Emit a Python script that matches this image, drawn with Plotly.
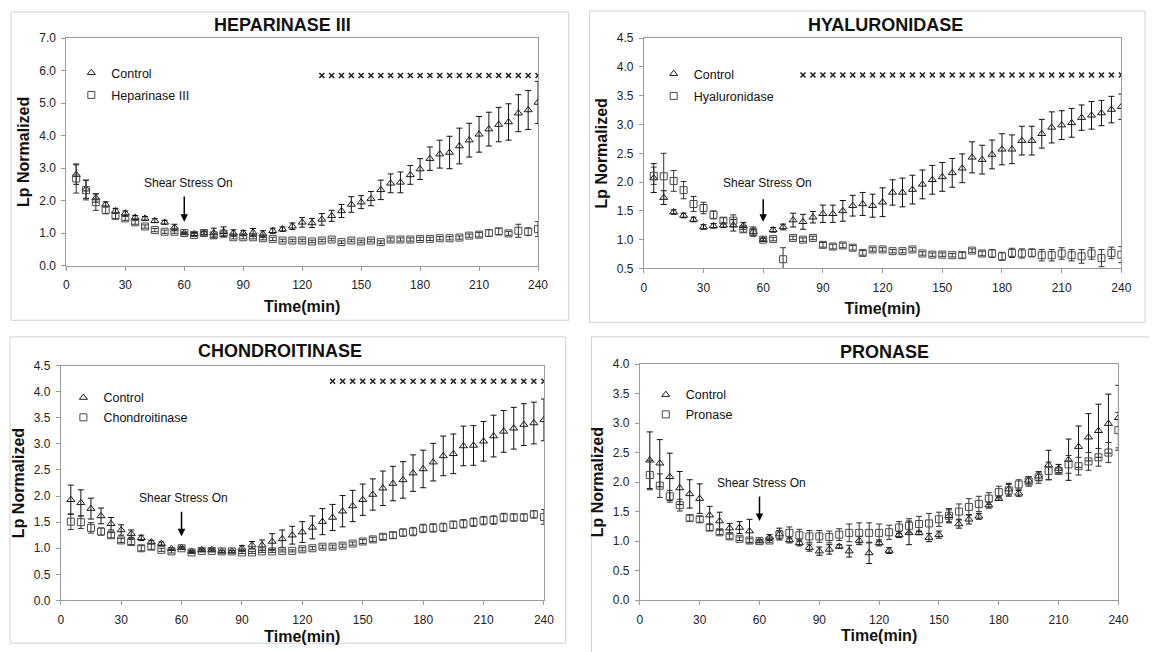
import plotly.graph_objects as go

# ---------------- data ----------------
TIME = [5, 10, 15, 20, 25, 30, 35, 40, 45, 50, 55, 60, 65, 70, 75, 80, 85, 90, 95, 100,
        105, 110, 115, 120, 125, 130, 135, 140, 145, 150, 155, 160, 165, 170, 175, 180,
        185, 190, 195, 200, 205, 210, 215, 220, 225, 230, 235, 240]

X_TICKS = [0, 30, 60, 90, 120, 150, 180, 210, 240]

# Heparinase III panel
HEP_CTRL = [2.80, 2.35, 2.08, 1.88, 1.68, 1.61, 1.48, 1.45, 1.38, 1.33,
            1.17, 1.00, 0.97, 1.00, 1.00, 1.04, 1.00, 1.00, 1.02, 0.97,
            1.07, 1.12, 1.21, 1.33, 1.31, 1.42, 1.53, 1.68, 1.88, 1.95,
            2.06, 2.33, 2.53, 2.56, 2.79, 2.97, 3.29, 3.43, 3.48, 3.68,
            3.86, 4.04, 4.20, 4.34, 4.42, 4.69, 4.79, 5.02]
HEP_CTRL_ERR = [0.30, 0.28, 0.13, 0.08, 0.08, 0.07, 0.06, 0.06, 0.06, 0.06,
                0.10, 0.03, 0.05, 0.06, 0.15, 0.15, 0.10, 0.08, 0.12, 0.10,
                0.08, 0.07, 0.10, 0.15, 0.14, 0.18, 0.17, 0.20, 0.24, 0.20,
                0.22, 0.30, 0.29, 0.32, 0.29, 0.32, 0.36, 0.43, 0.50, 0.55,
                0.52, 0.55, 0.52, 0.53, 0.56, 0.57, 0.60, 0.65]
HEP_TRT = [2.68, 2.32, 1.95, 1.71, 1.53, 1.45, 1.33, 1.20, 1.09, 1.04,
           1.04, 1.00, 0.94, 1.00, 0.93, 0.98, 0.87, 0.87, 0.87, 0.84,
           0.82, 0.77, 0.77, 0.77, 0.74, 0.77, 0.80, 0.72, 0.77, 0.74,
           0.77, 0.72, 0.80, 0.80, 0.80, 0.82, 0.82, 0.84, 0.84, 0.86,
           0.92, 0.95, 1.00, 1.05, 0.99, 1.07, 1.04, 1.12]
HEP_TRT_ERR = [0.45, 0.30, 0.25, 0.12, 0.08, 0.06, 0.06, 0.05, 0.05, 0.05,
               0.05, 0.02, 0.05, 0.04, 0.05, 0.05, 0.05, 0.05, 0.05, 0.05,
               0.05, 0.04, 0.04, 0.04, 0.04, 0.04, 0.04, 0.04, 0.04, 0.04,
               0.04, 0.04, 0.05, 0.05, 0.05, 0.05, 0.05, 0.05, 0.05, 0.05,
               0.05, 0.07, 0.10, 0.10, 0.06, 0.20, 0.12, 0.23]
HEP_SIG_T = [130, 135, 140, 145, 150, 155, 160, 165, 170, 175, 180, 185,
             190, 195, 200, 205, 210, 215, 220, 225, 230, 235, 240]
HEP_SIG_LEVEL = 5.85

# Hyaluronidase panel
HYA_CTRL = [2.07, 1.73, 1.48, 1.42, 1.35, 1.22, 1.24, 1.25, 1.25, 1.24,
            1.14, 1.00, 1.17, 1.22, 1.34, 1.31, 1.39, 1.45, 1.45, 1.50,
            1.59, 1.62, 1.59, 1.65, 1.82, 1.82, 1.87, 1.96, 2.04, 2.09,
            2.16, 2.24, 2.43, 2.39, 2.48, 2.57, 2.57, 2.72, 2.72, 2.84,
            2.95, 2.99, 3.03, 3.12, 3.16, 3.20, 3.26, 3.31]
HYA_CTRL_ERR = [0.25, 0.12, 0.04, 0.04, 0.04, 0.04, 0.04, 0.04, 0.10, 0.06,
                0.08, 0.03, 0.04, 0.05, 0.12, 0.13, 0.10, 0.15, 0.15, 0.18,
                0.18, 0.20, 0.20, 0.25, 0.22, 0.25, 0.25, 0.25, 0.25, 0.25,
                0.25, 0.25, 0.27, 0.25, 0.25, 0.27, 0.25, 0.25, 0.25, 0.25,
                0.27, 0.25, 0.25, 0.22, 0.24, 0.22, 0.23, 0.22]
HYA_TRT = [2.11, 2.10, 2.02, 1.86, 1.62, 1.55, 1.43, 1.33, 1.33, 1.18,
           1.13, 1.00, 1.01, 0.66, 1.03, 1.00, 1.03, 0.91, 0.88, 0.90,
           0.86, 0.77, 0.83, 0.83, 0.80, 0.80, 0.83, 0.76, 0.74, 0.74,
           0.73, 0.73, 0.81, 0.76, 0.76, 0.71, 0.77, 0.76, 0.77, 0.73,
           0.73, 0.76, 0.73, 0.71, 0.76, 0.68, 0.77, 0.74]
HYA_TRT_ERR = [0.15, 0.40, 0.18, 0.15, 0.13, 0.10, 0.07, 0.05, 0.10, 0.05,
               0.05, 0.02, 0.03, 0.20, 0.03, 0.03, 0.03, 0.04, 0.04, 0.04,
               0.04, 0.04, 0.03, 0.03, 0.03, 0.03, 0.03, 0.03, 0.03, 0.03,
               0.03, 0.05, 0.03, 0.04, 0.07, 0.07, 0.08, 0.08, 0.07, 0.10,
               0.10, 0.10, 0.10, 0.12, 0.10, 0.15, 0.10, 0.14]
HYA_SIG_T = [80, 85, 90, 95, 100, 105, 110, 115, 120, 125, 130, 135, 140,
             145, 150, 155, 160, 165, 170, 175, 180, 185, 190, 195, 200, 205,
             210, 215, 220, 225, 230, 235, 240]
HYA_SIG_LEVEL = 3.86

# Chondroitinase panel
CHO_CTRL = [1.93, 1.87, 1.76, 1.62, 1.47, 1.35, 1.28, 1.20, 1.12, 1.09,
            0.99, 1.01, 0.94, 0.97, 0.97, 0.94, 0.94, 1.00, 1.06, 1.06,
            1.13, 1.18, 1.25, 1.31, 1.40, 1.51, 1.59, 1.71, 1.81, 1.93,
            2.03, 2.15, 2.24, 2.31, 2.44, 2.52, 2.65, 2.77, 2.81, 2.96,
            2.97, 3.05, 3.15, 3.24, 3.30, 3.37, 3.40, 3.46]
CHO_CTRL_ERR = [0.28, 0.25, 0.20, 0.15, 0.12, 0.10, 0.07, 0.05, 0.03, 0.03,
                0.02, 0.02, 0.02, 0.02, 0.02, 0.02, 0.02, 0.05, 0.07, 0.10,
                0.15, 0.17, 0.17, 0.20, 0.22, 0.25, 0.25, 0.30, 0.30, 0.30,
                0.30, 0.33, 0.33, 0.35, 0.35, 0.36, 0.36, 0.38, 0.38, 0.38,
                0.38, 0.38, 0.40, 0.40, 0.40, 0.40, 0.40, 0.40]
CHO_TRT = [1.51, 1.50, 1.39, 1.32, 1.25, 1.15, 1.12, 1.00, 1.03, 0.97,
           0.94, 1.00, 0.92, 0.95, 0.95, 0.94, 0.94, 0.92, 0.92, 0.94,
           0.94, 0.95, 0.95, 0.98, 1.00, 1.03, 1.03, 1.05, 1.09, 1.13,
           1.17, 1.22, 1.25, 1.30, 1.32, 1.38, 1.39, 1.40, 1.45, 1.47,
           1.50, 1.53, 1.54, 1.59, 1.59, 1.59, 1.65, 1.60]
CHO_TRT_ERR = [0.15, 0.12, 0.10, 0.07, 0.05, 0.04, 0.05, 0.05, 0.05, 0.03,
               0.03, 0.02, 0.02, 0.02, 0.02, 0.02, 0.02, 0.02, 0.02, 0.02,
               0.02, 0.02, 0.02, 0.03, 0.03, 0.03, 0.03, 0.03, 0.03, 0.04,
               0.04, 0.05, 0.06, 0.07, 0.08, 0.08, 0.08, 0.08, 0.07, 0.08,
               0.08, 0.08, 0.08, 0.08, 0.07, 0.07, 0.07, 0.14]
CHO_SIG_T = [135, 140, 145, 150, 155, 160, 165, 170, 175, 180, 185, 190,
             195, 200, 205, 210, 215, 220, 225, 230, 235, 240]
CHO_SIG_LEVEL = 4.2

# Pronase panel
PRO_CTRL = [2.37, 2.32, 2.09, 1.90, 1.80, 1.72, 1.44, 1.34, 1.22, 1.23,
            1.17, 1.00, 1.06, 1.12, 1.02, 0.97, 0.89, 0.83, 0.86, 0.91,
            0.83, 1.01, 0.80, 0.97, 0.84, 1.11, 1.14, 1.14, 1.06, 1.11,
            1.43, 1.29, 1.37, 1.42, 1.61, 1.72, 1.88, 1.81, 2.03, 2.10,
            2.29, 2.23, 2.38, 2.60, 2.76, 2.87, 2.99, 3.09]
PRO_CTRL_ERR = [0.48, 0.40, 0.40, 0.28, 0.24, 0.25, 0.15, 0.15, 0.08, 0.10,
                0.20, 0.02, 0.05, 0.10, 0.05, 0.05, 0.06, 0.07, 0.08, 0.03,
                0.10, 0.07, 0.18, 0.05, 0.05, 0.05, 0.20, 0.03, 0.07, 0.06,
                0.12, 0.07, 0.08, 0.05, 0.05, 0.03, 0.10, 0.05, 0.06, 0.07,
                0.25, 0.07, 0.35, 0.35, 0.40, 0.45, 0.50, 0.55]
PRO_TRT = [2.12, 1.94, 1.76, 1.61, 1.39, 1.37, 1.23, 1.15, 1.08, 1.04,
           1.01, 1.00, 1.01, 1.11, 1.14, 1.10, 1.08, 1.08, 1.07, 1.11,
           1.14, 1.14, 1.14, 1.14, 1.15, 1.23, 1.26, 1.29, 1.30, 1.37,
           1.43, 1.50, 1.58, 1.63, 1.72, 1.83, 1.86, 1.96, 2.01, 2.08,
           2.19, 2.19, 2.30, 2.27, 2.35, 2.42, 2.50, 2.88]
PRO_TRT_ERR = [0.25, 0.20, 0.10, 0.10, 0.05, 0.05, 0.05, 0.04, 0.04, 0.03,
               0.03, 0.02, 0.03, 0.07, 0.10, 0.10, 0.10, 0.10, 0.10, 0.10,
               0.15, 0.17, 0.17, 0.15, 0.12, 0.10, 0.12, 0.13, 0.17, 0.12,
               0.10, 0.13, 0.14, 0.13, 0.10, 0.10, 0.10, 0.08, 0.08, 0.10,
               0.15, 0.05, 0.15, 0.15, 0.15, 0.15, 0.17, 0.30]

# ---------------- layout helpers ----------------
W, H = 1157, 652
OFF = 8  # the page body margin that offsets the figure in the browser window
FONT = "Liberation Sans, Arial, Helvetica, sans-serif"


def px_x(p):
    return (p - OFF) / W


def px_y(p):
    return 1 - (p - OFF) / H


panels = [
    dict(title="HEPARINASE III", trt_name="Heparinase III",
         ctrl=HEP_CTRL, ctrl_err=HEP_CTRL_ERR, trt=HEP_TRT, trt_err=HEP_TRT_ERR,
         sig_t=HEP_SIG_T, sig_level=HEP_SIG_LEVEL,
         yrange=[0, 7], dtick=1.0, plot=(64, 541, 31.7, 264.0),
         box=(8, 572, 5, 320), title_pos=(283, 18),
         shear=(62, 2.53, 2.17, 1.35), legend=(69, 52, 3),
         xstand=9, ystand=5),
    dict(title="HYALURONIDASE", trt_name="Hyaluronidase",
         ctrl=HYA_CTRL, ctrl_err=HYA_CTRL_ERR, trt=HYA_TRT, trt_err=HYA_TRT_ERR,
         sig_t=HYA_SIG_T, sig_level=HYA_SIG_LEVEL,
         yrange=[0.5, 4.5], dtick=0.5, plot=(648, 1131, 31.7, 267.0),
         box=(593, 1155, 4, 322), title_pos=(892, 18),
         shear=(62, 1.99, 1.73, 1.31), legend=(658, 53, 3),
         xstand=8, ystand=5),
    dict(title="CHONDROITINASE", trt_name="Chondroitinase",
         ctrl=CHO_CTRL, ctrl_err=CHO_CTRL_ERR, trt=CHO_TRT, trt_err=CHO_TRT_ERR,
         sig_t=CHO_SIG_T, sig_level=CHO_SIG_LEVEL,
         yrange=[0, 4.5], dtick=0.5, plot=(58.3, 547, 366.3, 606.3),
         box=(7, 569, 337, 650), title_pos=(280, 351),
         shear=(61, 1.96, 1.73, 1.23), legend=(61, 384, 0.5),
         xstand=4, ystand=5),
    dict(title="PRONASE", trt_name="Pronase",
         ctrl=PRO_CTRL, ctrl_err=PRO_CTRL_ERR, trt=PRO_TRT, trt_err=PRO_TRT_ERR,
         sig_t=[], sig_level=None,
         yrange=[0, 4.0], dtick=0.5, plot=(644, 1128, 364.7, 606.0),
         box=(595, 1170, 337, 670), title_pos=(891, 352),
         shear=(61, 1.98, 1.78, 1.34), legend=(650, 381, 0.5),
         xstand=4, ystand=5),
]

fig = go.Figure()
annotations = []
shapes = []
layout_extra = {}

for i, p in enumerate(panels, start=1):
    xa = "x" if i == 1 else f"x{i}"
    ya = "y" if i == 1 else f"y{i}"
    leg = "legend" if i == 1 else f"legend{i}"

    fig.add_trace(go.Scatter(
        x=TIME, y=p["ctrl"], mode="markers", name="Control",
        xaxis=xa, yaxis=ya, legend=leg, legendgroup=f"c{i}",
        marker=dict(symbol="triangle-up-open", size=7, color="#1a1a1a",
                    line=dict(width=1, color="#1a1a1a")),
        error_y=dict(type="data", array=p["ctrl_err"], visible=True,
                     color="#111111", thickness=1, width=3),
    ))
    fig.add_trace(go.Scatter(
        x=TIME, y=p["trt"], mode="markers", name=p["trt_name"],
        xaxis=xa, yaxis=ya, legend=leg, legendgroup=f"t{i}",
        marker=dict(symbol="square-open", size=7, color="#4a4a4a",
                    line=dict(width=1, color="#4a4a4a")),
        error_y=dict(type="data", array=p["trt_err"], visible=True,
                     color="#333333", thickness=1, width=3),
    ))
    if p["sig_t"]:
        fig.add_trace(go.Scatter(
            x=p["sig_t"], y=[p["sig_level"]] * len(p["sig_t"]), mode="markers",
            xaxis=xa, yaxis=ya, showlegend=False, hoverinfo="skip",
            marker=dict(symbol="x-thin-open", size=5, color="#222222",
                        line=dict(width=1.6, color="#222222")),
        ))

    x0, x1, y0, y1 = p["plot"]
    axis_common = dict(showline=True, mirror=True, linecolor="#9a9a9a", linewidth=1,
                       ticks="outside", ticklen=4, tickcolor="#9a9a9a",
                       showgrid=False, zeroline=False,
                       tickfont=dict(family=FONT, size=12, color="#222222"))
    layout_extra["xaxis" if i == 1 else f"xaxis{i}"] = dict(
        domain=[px_x(x0), px_x(x1)], range=[0, 240], tickvals=X_TICKS,
        anchor=ya, ticklabelstandoff=4,
        title=dict(text="Time(min)", standoff=p["xstand"],
                   font=dict(family=FONT, size=16, color="#111111", weight="bold")),
        **axis_common)
    layout_extra["yaxis" if i == 1 else f"yaxis{i}"] = dict(
        domain=[px_y(y1), px_y(y0)], range=p["yrange"], dtick=p["dtick"],
        tickformat=".1f", anchor=xa, ticklabelstandoff=3,
        title=dict(text="Lp Normalized", standoff=p["ystand"],
                   font=dict(family=FONT, size=16, color="#111111", weight="bold")),
        **axis_common)

    lx, ly, lgap = p["legend"]
    layout_extra[leg] = dict(
        x=px_x(lx), y=px_y(ly), xanchor="left", yanchor="top",
        bgcolor="rgba(0,0,0,0)", borderwidth=0,
        font=dict(family=FONT, size=12.5, color="#111111"),
        itemwidth=30, traceorder="grouped", tracegroupgap=lgap,
    )

    bx0, bx1, by0, by1 = p["box"]
    shapes.append(dict(type="rect", xref="paper", yref="paper",
                       x0=px_x(bx0), x1=px_x(bx1), y0=px_y(by1), y1=px_y(by0),
                       line=dict(color="#d0d0d0", width=1), layer="below"))

    tx, ty = p["title_pos"]
    annotations.append(dict(xref="paper", yref="paper", x=px_x(tx), y=px_y(ty),
                            text=p["title"], showarrow=False,
                            xanchor="center", yanchor="middle",
                            font=dict(family=FONT, size=18, color="#111111",
                                      weight="bold")))

    st, sy, tail, head = p["shear"]
    annotations.append(dict(xref=xa, yref=ya, x=st, y=sy, text="Shear Stress On",
                            showarrow=False, xanchor="center", yanchor="middle",
                            font=dict(family=FONT, size=12, color="#111111")))
    annotations.append(dict(xref=xa, yref=ya, x=60, y=head, ax=60, ay=tail,
                            axref=xa, ayref=ya, text="", showarrow=True,
                            arrowhead=2, arrowsize=1, arrowwidth=1.5,
                            arrowcolor="#000000"))

fig.update_layout(
    width=W, height=H, margin=dict(l=0, r=0, t=0, b=0),
    paper_bgcolor="white", plot_bgcolor="white",
    font=dict(family=FONT, color="#111111"),
    annotations=annotations, shapes=shapes,
    **layout_extra,
)

fig.write_html("out.html")
